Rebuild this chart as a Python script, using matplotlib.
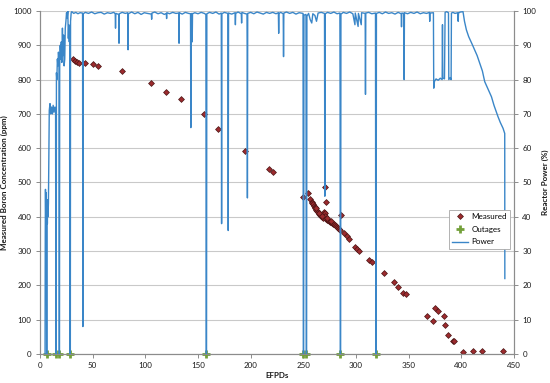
import matplotlib
matplotlib.use("Agg")
import matplotlib.pyplot as plt

plt.rcParams['font.family'] = ['Lato', 'DejaVu Sans']

# measured boron (EFPD, ppm)
measured_efpd = [31.0, 33.2, 34.8, 36.7, 42.7, 50.0, 55.3, 77.8, 105.6, 119.2, 133.6,
                 155.9, 169.2, 194.2, 217.5, 221.4, 249.8, 254.9, 256.8, 271.0, 271.4,
                 257.8, 258.5, 259.3, 260.0, 260.8, 261.5, 262.3, 263.0, 263.8, 264.5,
                 265.3, 266.0, 266.8, 267.5, 268.3, 269.0, 269.5, 270.0, 270.4, 271.0,
                 271.8, 272.5, 273.3, 274.0, 275.0, 276.0, 277.0, 278.0, 279.0, 280.0,
                 281.0, 282.0, 283.0, 284.0, 284.6, 262.0, 265.0, 268.0, 272.0, 276.5,
                 286.2, 288.4, 291.0, 293.5, 298.9, 301.0, 302.7, 312.3, 315.0, 326.8,
                 335.9, 340.3, 344.7, 347.0, 367.8, 373.5, 375.4, 378.3, 384.0, 384.9,
                 387.1, 392.5, 393.0, 401.6, 411.0, 419.4, 440.0]
measured_ppm = [859, 855, 852, 848, 849, 845, 841, 824, 791, 764, 743,
                700, 655, 593, 540, 531, 459, 470, 452, 488, 444,
                444, 440, 436, 432, 428, 425, 421, 418, 414, 411,
                408, 405, 402, 400, 398, 396, 415, 408, 410, 402,
                394, 392, 390, 388, 386, 384, 382, 380, 378, 375,
                373, 370, 368, 365, 362, 425, 412, 403, 396, 388,
                404, 354, 344, 335, 313, 306, 301, 274, 267, 236,
                210, 194, 179, 175, 112, 96, 133, 125, 110, 84,
                55, 38, 37, 7, 10, 10, 10]

# outages, plotted on the x axis
outage_efpd = [6.3, 15.2, 18.3, 28.5, 157.5, 249.9, 252.4, 284.6, 318.8]
outage_ppm = [0, 0, 0, 0, 0, 0, 0, 0, 0]

# reactor power trace (EFPD, %)
power_efpd = [
    4.8, 5.0, 5.2, 5.5, 5.8, 6.1, 6.3, 6.5, 6.7, 7.0, 7.3, 7.6, 8.0, 8.5, 8.8, 9.5,
    10.2, 11.0, 11.8, 12.5, 13.3, 14.2, 14.8, 15.1, 15.4, 15.6, 16.0, 16.5, 17.0, 17.5,
    18.0, 18.2, 18.5, 18.7, 19.2, 19.7, 20.2, 20.7, 21.3, 21.8, 22.4, 22.9, 23.5, 24.0,
    24.6, 25.2, 25.8, 26.4, 26.9, 27.3, 27.8, 28.2, 28.4, 28.8, 29.0, 29.6, 30.2,
    32, 34, 36, 38, 40.4, 40.7, 41.0, 43, 46, 49, 52, 55, 58, 61, 64, 67, 70,
    71.4, 71.7, 72.0, 74.7, 75.0, 75.3, 78, 81, 83.3, 83.6, 83.9, 87, 90, 93, 96, 99,
    102, 105.7, 106.0, 106.3, 109, 112, 115, 118, 119.9, 120.2, 120.5, 123, 126, 129,
    131.7, 132.0, 132.3, 135, 138, 141, 142.9, 143.2, 143.5, 144.2, 144.5, 144.8,
    147, 150, 153, 156, 157.5, 157.8, 158.1, 158.4, 161, 164, 167, 170, 172.1, 172.4,
    172.7, 175, 178.4, 178.7, 179.0, 182, 185.2, 185.5, 185.8, 188, 191.1, 191.4, 191.7,
    194, 196.5, 196.7, 196.9, 197.2, 200, 203, 206, 209, 212, 215, 218, 221, 224,
    226.3, 226.6, 226.9, 228.5, 230.9, 231.2, 231.5, 234, 237, 240, 243, 246,
    249.7, 250.0, 250.3, 250.6, 252.5, 252.8, 253.1, 253.4,
    255, 256.5, 258, 259, 261, 262.5, 264, 267, 270.1, 270.4, 270.7, 273, 276, 279, 282,
    284.7, 284.9, 285.1, 285.4, 285.7, 288, 291, 294, 297, 299, 299.3, 302, 302.3, 305,
    305.3, 308.7, 309.0, 309.3, 312, 315, 318.5, 318.8, 319.1, 319.4,
    322, 325, 328, 331, 334, 337, 340, 342.9, 343.2, 343.5, 345.4, 345.7, 346.0, 349,
    352, 355, 358, 361, 364, 367, 369.7, 370.0, 370.3, 373.5, 373.8, 374.5, 376, 378,
    380, 381.8, 382.1, 382.4, 384, 384.6, 386, 387.8, 388.1, 389.5, 390.3, 390.6, 392,
    394, 396.7, 397, 397.3, 399, 401.6, 403, 404.8, 407, 410, 412.7, 415, 417.5, 420,
    422.2, 425, 428.6, 431, 434.8, 437, 439.6, 441.2, 441.3]
power_pct = [
    0, 35, 48, 38, 47, 37, 0, 0, 44, 38, 45, 40, 44, 60, 71, 73,
    70, 72, 70, 72.5, 70.5, 72, 71, 0, 0, 82, 80, 86, 84, 88,
    86, 0, 0, 84, 90, 86, 91, 85, 95, 87, 93, 84, 86, 95,
    97, 99.5, 98, 100, 92, 96, 91, 95, 0, 0, 97, 99.5, 99.8,
    99.3, 99.6, 99.2, 99.5, 99.4, 8, 99.2, 99.6, 99.3, 99.7, 99.2, 99.5, 99.6, 99.1, 99.5, 99.3, 99.6,
    99.2, 95, 99.3, 99.0, 90.6, 99.2, 99.6, 99.3, 99.5, 88.7, 99.2, 99.7, 99.2, 99.6, 99.0, 99.5,
    99.3, 99.1, 97.6, 99.4, 99.7, 99.2, 99.5, 99.0, 99.3, 97.8, 99.5, 99.2, 99.6, 99.3,
    99.4, 90.6, 99.5, 99.1, 99.6, 99.3, 99.2, 66, 99.0, 99.3, 91, 99.2,
    99.5, 99.2, 99.6, 99.3, 99.0, 0, 0, 99.2, 99.6, 99.3, 99.7, 99.1, 99.4, 38,
    99.2, 99.6, 99.3, 36, 99.4, 99.1, 99.5, 96, 99.3, 99.7, 99.2, 96.5, 99.6,
    99.3, 99.1, 88.6, 45.5, 99.3, 99.6, 99.2, 99.7, 99.4, 99.1, 99.6, 99.3, 99.6, 99.2,
    99.5, 93.5, 99.3, 99.6, 99.2, 86.7, 99.4, 99.7, 99.3, 99.6, 99.1, 99.5,
    99.3, 0, 0, 98.8, 99.0, 0, 0, 98.5,
    99.3, 97.5, 96.5, 99.2, 98.7, 97, 99.4, 99.6, 99.3, 46, 99.2, 99.6, 99.3, 99.7, 99.2,
    99.4, 74, 0, 0, 99.1, 99.6, 99.3, 99.7, 99.2, 96, 99.4, 95.5, 99.3, 96,
    99.5, 99.3, 75.7, 99.4, 99.6, 99.2, 99.4, 0, 0, 99.3,
    99.6, 99.2, 99.7, 99.3, 99.5, 99.1, 99.6, 99.2, 95.4, 99.4, 99.3, 80, 99.5, 99.2,
    99.6, 99.3, 99.7, 99.2, 99.5, 99.3, 99.6, 97, 99.4, 99.5, 77.5, 79.5, 80.2, 79.8,
    80.4, 80, 96, 80.5, 80.2, 99.6, 99.8, 99.5, 80, 80.6, 80, 99.4, 99.6,
    99.3, 99.5, 97, 99.4, 99.7, 99.8, 97, 94.5, 92.5, 90.5, 88.6, 87, 84.7, 82.5,
    79.4, 77.5, 75, 72.5, 69.2, 67.5, 65.8, 64.3, 22]

ppm_ticks = list(range(0, 1001, 100))
pct_ticks = list(range(0, 101, 10))
efpd_ticks = list(range(0, 451, 50))

GRID = '#c9c9c9'
AXIS = '#8c8c8c'
TEXT = '#1a1a1a'


def main():
    fig = plt.figure(figsize=(5.5, 3.83), dpi=100)
    ax = fig.add_axes([40 / 550, 29 / 383, 474 / 550, 343 / 383])
    ax2 = ax.twinx()

    ax.set_xlim(0, 450)
    ax.set_ylim(0, 1000)
    ax2.set_ylim(0, 100)
    ax.set_xticks(efpd_ticks)
    ax.set_yticks(ppm_ticks)
    ax2.set_yticks(pct_ticks)

    ax.grid(axis='y', color=GRID, lw=0.8)
    ax.set_axisbelow(True)

    h_meas, = ax.plot(measured_efpd, measured_ppm, ls='none', marker='D', ms=3.0,
                      mfc='#9c2b2e', mec='#4a1515', mew=0.5, label='Measured', zorder=3)
    h_out, = ax.plot(outage_efpd, outage_ppm, ls='none', marker='+', ms=6.0,
                     mew=2.0, color='#73a03a', label='Outages', zorder=4, clip_on=False)
    h_pow, = ax2.plot(power_efpd, power_pct, color='#3a86c8', lw=1.0, label='Power',
                      zorder=2)

    for a in (ax, ax2):
        a.spines['top'].set_visible(False)
        for s in ('left', 'right', 'bottom'):
            a.spines[s].set_color(AXIS)
            a.spines[s].set_linewidth(0.8)
        a.tick_params(labelsize=5.8, colors=TEXT, length=3, width=0.7, pad=3,
                      color=AXIS)

    ax.set_xlabel('EFPDs', fontsize=5.8, fontweight='bold', color=TEXT, labelpad=2)
    ax.set_ylabel('Measured Boron Concentration (ppm)', fontsize=5.8,
                  fontweight='bold', color=TEXT, labelpad=4)
    ax2.set_ylabel('Reactor Power (%)', fontsize=5.8, fontweight='bold', color=TEXT,
                   labelpad=4)

    leg = ax2.legend(handles=[h_meas, h_out, h_pow], loc='upper right',
                     bbox_to_anchor=(0.995, 0.425), fontsize=5.8, frameon=True,
                     fancybox=False, edgecolor='#a6a6a6', framealpha=1,
                     borderpad=0.4, labelspacing=0.7, handlelength=2.0,
                     handletextpad=0.4, borderaxespad=0.2)
    leg.get_frame().set_linewidth(0.6)
    leg.set_zorder(10)

    fig.savefig('out.png', dpi=100)


if __name__ == '__main__':
    main()
